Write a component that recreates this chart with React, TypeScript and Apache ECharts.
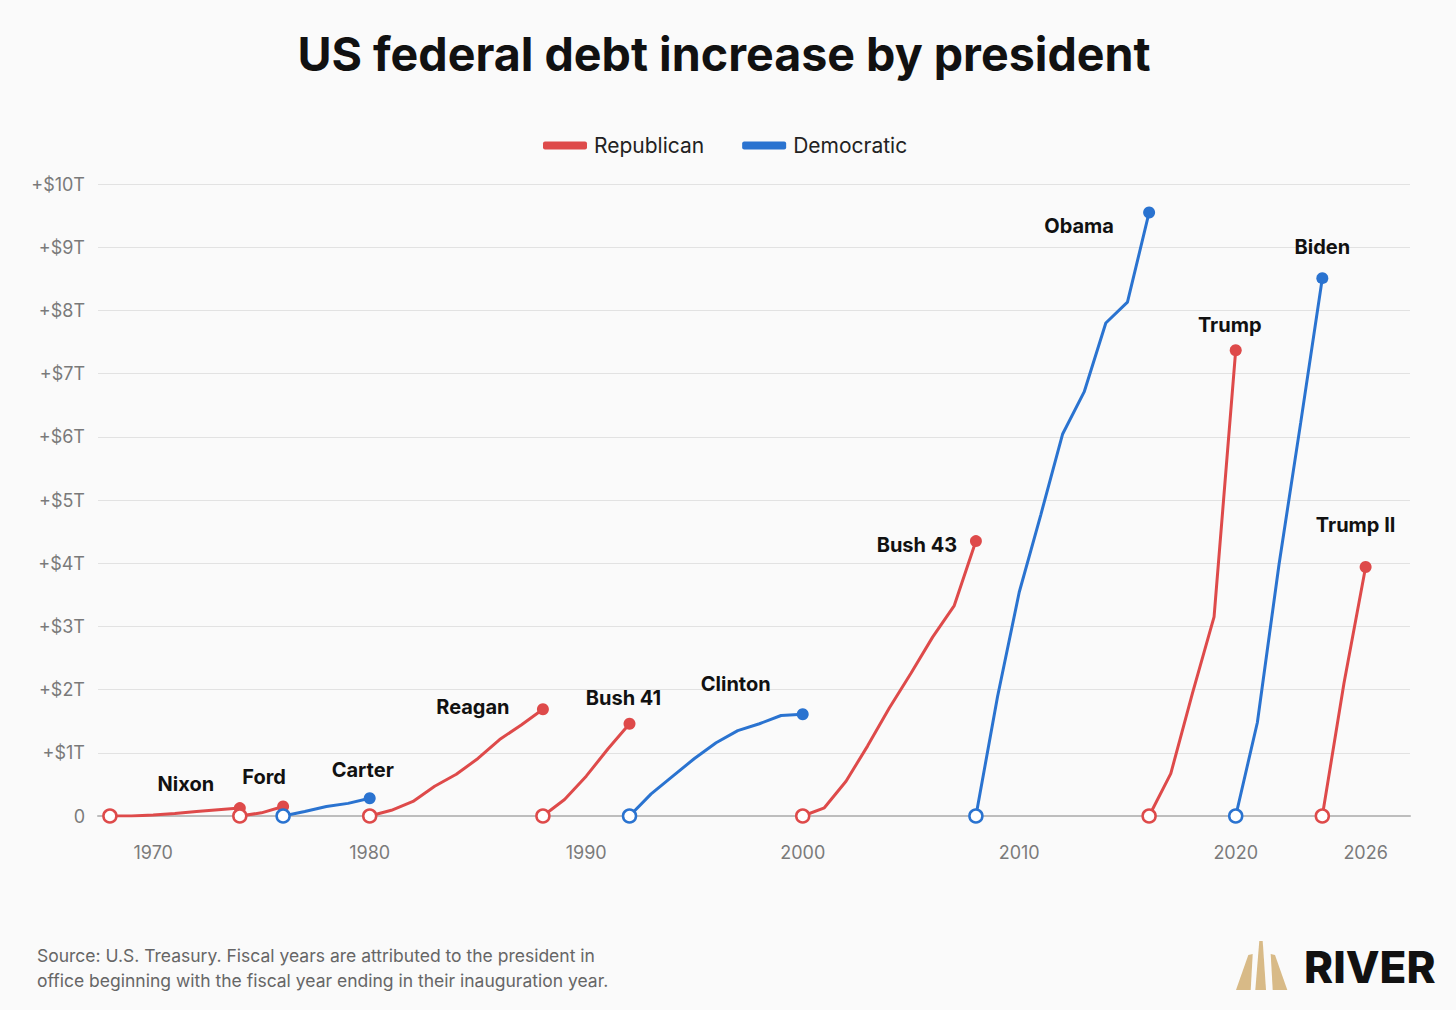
import React, { useEffect, useRef } from 'react';
import * as echarts from 'echarts';

// one entry per president, fiscal-year debt increase since the start of the term (trillions $)
const presidents = ['Nixon', 'Ford', 'Carter', 'Reagan', 'Bush 41', 'Clinton', 'Bush 43', 'Obama', 'Trump', 'Biden', 'Trump II'];
const parties = ['Republican', 'Republican', 'Democratic', 'Republican', 'Republican', 'Democratic', 'Republican', 'Democratic', 'Republican', 'Democratic', 'Republican'];
const startYears = [1968, 1974, 1976, 1980, 1988, 1992, 2000, 2008, 2016, 2020, 2024];

const nixonDebt = [0, 0.0, 0.015, 0.04, 0.07, 0.1, 0.125];
const fordDebt = [0, 0.05, 0.15];
const carterDebt = [0, 0.07, 0.15, 0.2, 0.28];
const reaganDebt = [0, 0.09, 0.23, 0.47, 0.66, 0.91, 1.21, 1.44, 1.69];
const bush41Debt = [0, 0.26, 0.63, 1.06, 1.46];
const clintonDebt = [0, 0.35, 0.63, 0.91, 1.16, 1.35, 1.46, 1.59, 1.61];
const bush43Debt = [0, 0.13, 0.55, 1.11, 1.71, 2.26, 2.83, 3.33, 4.35];
const obamaDebt = [0, 1.89, 3.54, 4.77, 6.04, 6.71, 7.8, 8.13, 9.55];
const trumpDebt = [0, 0.67, 1.94, 3.15, 7.37];
const bidenDebt = [0, 1.48, 3.98, 6.22, 8.51];
const trump2Debt = [0, 2.1, 3.94];

const debtByPresident = [nixonDebt, fordDebt, carterDebt, reaganDebt, bush41Debt, clintonDebt, bush43Debt, obamaDebt, trumpDebt, bidenDebt, trump2Debt];

const yearTicks = [1970, 1980, 1990, 2000, 2010, 2020, 2026];

// name label offsets from the final point (px)
const labelOffsets: Record<string, number[]> = {
    'Nixon': [-54, -24],
    'Ford': [-19, -30],
    'Carter': [-7, -28],
    'Reagan': [-70, -2],
    'Bush 41': [-6, -26],
    'Clinton': [-67, -30],
    'Bush 43': [-59, 4],
    'Obama': [-70, 14],
    'Trump': [-6, -25],
    'Biden': [0, -31],
    'Trump II': [-10, -42],
};

const partyColors: Record<string, string> = {
    Republican: '#de4a4a',
    Democratic: '#2a73d0',
};

const FONT = 'Inter, "Noto Sans", sans-serif';

export default function App() {
    const chartRef = useRef<HTMLDivElement | null>(null);

    useEffect(() => {
        if (!chartRef.current) return;
        const chart = echarts.init(chartRef.current, undefined, { renderer: 'svg' });

        const series = presidents.map((name, i) => {
            const color = partyColors[parties[i]];
            const values = debtByPresident[i];
            const data = values.map((v, k) => {
                const item: any = { value: [startYears[i] + k, v] };
                if (k === 0) {
                    item.symbol = 'circle';
                    item.symbolSize = 13;
                    item.itemStyle = { color: '#ffffff', borderColor: color, borderWidth: 2.5 };
                } else if (k === values.length - 1) {
                    item.symbol = 'circle';
                    item.symbolSize = 12;
                    item.itemStyle = { color, borderWidth: 0 };
                    item.label = {
                        show: true,
                        formatter: name,
                        position: 'inside',
                        offset: labelOffsets[name],
                        color: '#111',
                        fontSize: 20,
                        fontWeight: 'bold',
                        fontFamily: FONT,
                        textBorderWidth: 0,
                    };
                }
                return item;
            });
            return {
                type: 'line',
                name: parties[i],
                color,
                symbol: 'none',
                lineStyle: { color, width: 3 },
                emphasis: { disabled: true },
                data,
            };
        });

        chart.setOption({
            animation: false,
            backgroundColor: '#fafafa',
            textStyle: { fontFamily: FONT },
            legend: {
                data: ['Republican', 'Democratic'],
                top: 130,
                left: 538,
                icon: 'roundRect',
                itemWidth: 44,
                itemHeight: 8,
                itemGap: 38,
                selectedMode: false,
                textStyle: { fontSize: 21, color: '#222', fontFamily: FONT, padding: [0, 0, 0, 2] },
            },
            grid: { left: 98, right: 46, top: 184, bottom: 194 },
            xAxis: {
                type: 'value',
                min: 1967.45,
                max: 2028.05,
                axisLine: { show: true, onZero: true, lineStyle: { color: '#bdbdbd', width: 2 } },
                axisTick: { show: false },
                splitLine: { show: false },
                axisLabel: {
                    customValues: yearTicks,
                    formatter: (v: number) => String(v),
                    color: '#7a7a7a',
                    fontSize: 18,
                    margin: 27,
                    fontFamily: FONT,
                },
            },
            yAxis: {
                type: 'value',
                min: 0,
                max: 10,
                interval: 1,
                axisLine: { show: false },
                axisTick: { show: false },
                splitLine: { lineStyle: { color: '#e2e2e2', width: 1 } },
                axisLabel: {
                    formatter: (v: number) => (v === 0 ? '0' : `+$${v}T`),
                    color: '#7a7a7a',
                    fontSize: 18,
                    margin: 13,
                    fontFamily: FONT,
                },
            },
            graphic: [
                {
                    type: 'text',
                    x: 724,
                    y: 54,
                    style: {
                        text: 'US federal debt increase by president',
                        fontSize: 46.6,
                        fontWeight: 'bold',
                        fontFamily: FONT,
                        fill: '#111',
                        align: 'center',
                        verticalAlign: 'middle',
                    },
                },
                {
                    type: 'text',
                    x: 37,
                    y: 943,
                    style: {
                        text: 'Source: U.S. Treasury. Fiscal years are attributed to the president in\noffice beginning with the fiscal year ending in their inauguration year.',
                        fontSize: 17.5,
                        lineHeight: 25,
                        fontFamily: FONT,
                        fill: '#666',
                    },
                },
                {
                    type: 'polygon',
                    shape: { points: [[1248.3, 955], [1252.7, 954], [1250.7, 990], [1236, 990]] },
                    style: { fill: '#d8ba87' },
                },
                {
                    type: 'polygon',
                    shape: { points: [[1259.3, 941], [1262.7, 941], [1266, 990], [1255.3, 990]] },
                    style: { fill: '#d8ba87' },
                },
                {
                    type: 'polygon',
                    shape: { points: [[1270.7, 954], [1275, 955], [1287.3, 990], [1272.7, 990]] },
                    style: { fill: '#d8ba87' },
                },
                {
                    type: 'text',
                    x: 1304,
                    y: 967,
                    style: {
                        text: 'RIVER',
                        fontSize: 44,
                        fontWeight: 800,
                        fontFamily: FONT,
                        fill: '#111',
                        verticalAlign: 'middle',
                    },
                },
            ],
            series,
        });

        return () => {
            chart.dispose();
        };
    }, []);

    return (
        <div
            ref={chartRef}
            style={{ position: 'fixed', left: 0, top: 0, width: 1456, height: 1010 }}
        />
    );
}
